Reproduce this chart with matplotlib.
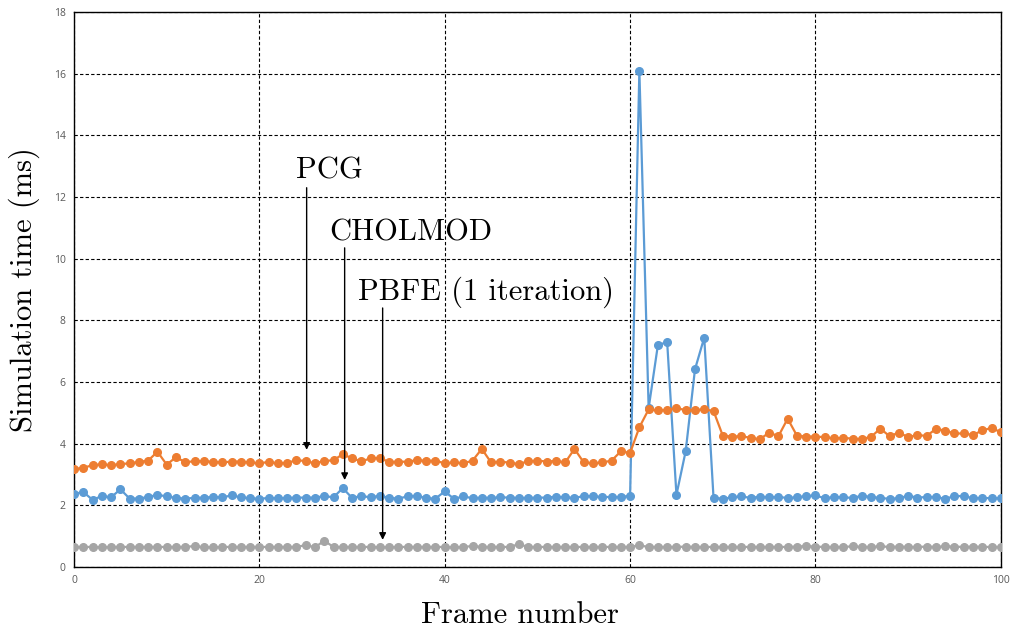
"""Simulation time per frame for three solvers."""

import matplotlib
matplotlib.use("Agg")
import matplotlib.pyplot as plt
import numpy as np

frames = np.arange(0, 101)

pcg_ms = [
    3.17, 3.22, 3.30, 3.33, 3.30, 3.34, 3.36, 3.41, 3.45, 3.74,
    3.32, 3.56, 3.40, 3.43, 3.43, 3.41, 3.39, 3.42, 3.42, 3.39,
    3.36, 3.41, 3.36, 3.38, 3.46, 3.44, 3.36, 3.44, 3.46, 3.66,
    3.52, 3.43, 3.52, 3.54, 3.40, 3.42, 3.41, 3.47, 3.44, 3.45,
    3.36, 3.39, 3.36, 3.45, 3.83, 3.39, 3.42, 3.38, 3.34, 3.43,
    3.45, 3.42, 3.44, 3.39, 3.83, 3.39, 3.36, 3.39, 3.45, 3.75,
    3.70, 4.53, 5.11, 5.08, 5.09, 5.15, 5.09, 5.09, 5.11, 5.06,
    4.26, 4.23, 4.24, 4.19, 4.14, 4.36, 4.24, 4.81, 4.26, 4.23,
    4.23, 4.21, 4.17, 4.19, 4.16, 4.15, 4.22, 4.49, 4.24, 4.36,
    4.21, 4.28, 4.25, 4.48, 4.42, 4.33, 4.33, 4.28, 4.43, 4.51,
    4.37,
]

cholmod_ms = [
    2.37, 2.43, 2.18, 2.30, 2.26, 2.52, 2.22, 2.22, 2.27, 2.34,
    2.29, 2.24, 2.22, 2.24, 2.25, 2.27, 2.26, 2.32, 2.26, 2.23,
    2.21, 2.24, 2.23, 2.24, 2.25, 2.25, 2.25, 2.30, 2.26, 2.56,
    2.24, 2.30, 2.26, 2.31, 2.24, 2.22, 2.29, 2.31, 2.23, 2.22,
    2.45, 2.21, 2.29, 2.23, 2.25, 2.24, 2.26, 2.25, 2.24, 2.24,
    2.25, 2.25, 2.28, 2.26, 2.24, 2.30, 2.29, 2.27, 2.27, 2.27,
    2.31, 16.1, 5.15, 7.20, 7.29, 2.34, 3.76, 6.41, 7.44, 2.25,
    2.21, 2.26, 2.29, 2.24, 2.28, 2.26, 2.27, 2.24, 2.26, 2.30,
    2.32, 2.23, 2.27, 2.26, 2.24, 2.31, 2.27, 2.24, 2.21, 2.23,
    2.31, 2.25, 2.27, 2.27, 2.21, 2.30, 2.30, 2.23, 2.24, 2.23,
    2.23,
]

pbfe_ms = [
    0.65, 0.65, 0.65, 0.64, 0.65, 0.65, 0.65, 0.65, 0.65, 0.65,
    0.65, 0.65, 0.65, 0.68, 0.64, 0.64, 0.65, 0.65, 0.65, 0.65,
    0.65, 0.65, 0.65, 0.65, 0.65, 0.71, 0.64, 0.85, 0.65, 0.65,
    0.65, 0.65, 0.65, 0.64, 0.64, 0.65, 0.65, 0.65, 0.65, 0.65,
    0.65, 0.64, 0.65, 0.68, 0.65, 0.65, 0.65, 0.65, 0.74, 0.65,
    0.65, 0.65, 0.65, 0.65, 0.65, 0.65, 0.65, 0.65, 0.65, 0.65,
    0.65, 0.70, 0.65, 0.65, 0.65, 0.65, 0.66, 0.65, 0.65, 0.65,
    0.65, 0.65, 0.65, 0.65, 0.65, 0.65, 0.65, 0.65, 0.66, 0.68,
    0.66, 0.65, 0.65, 0.65, 0.67, 0.65, 0.65, 0.67, 0.65, 0.66,
    0.65, 0.65, 0.66, 0.65, 0.67, 0.66, 0.65, 0.66, 0.65, 0.65,
    0.65,
]

# label text, text anchor (x, y), arrow tip (x, y)
annotations = [
    ("PCG", (24.0, 12.6), (25.1, 3.80)),
    ("CHOLMOD", (27.5, 10.6), (29.2, 2.82)),
    ("PBFE (1 iteration)", (30.6, 8.66), (33.3, 0.88)),
]
arrow_tails = [12.3, 10.35, 8.4]

fig = plt.figure(figsize=(10.14, 6.3), dpi=100)
ax = fig.add_axes([0.073, 0.1, 0.914, 0.881])

ax.plot(frames, cholmod_ms, color="#5B9BD5", lw=1.6, marker="o", ms=5.5, zorder=3)
ax.plot(frames, pcg_ms, color="#ED7D31", lw=1.6, marker="o", ms=5.5, zorder=4)
ax.plot(frames, pbfe_ms, color="#A5A5A5", lw=1.6, marker="o", ms=5.5, zorder=3)

ax.set_xlim(0, 100)
ax.set_ylim(0, 18)
ax.set_xticks(range(0, 101, 20))
ax.set_yticks(range(0, 19, 2))
ax.tick_params(length=0, labelsize=7.5, labelcolor="#595959", pad=6)
for lab in ax.get_xticklabels() + ax.get_yticklabels():
    lab.set_family("Open Sans")
ax.grid(True, color="black", linestyle=(0, (3, 2)), linewidth=0.8)
ax.set_axisbelow(True)
for sp in ax.spines.values():
    sp.set_linewidth(1.0)
    sp.set_color("black")

ax.set_xlabel("Frame number", family="cmr10", fontsize=22, labelpad=11)
ax.xaxis.label.set_x(0.481)
ax.set_ylabel("Simulation time (ms)", family="cmr10", fontsize=22, labelpad=10)

for (text, (tx, ty), (ax_, ay)), tail in zip(annotations, arrow_tails):
    ax.text(tx, ty, text, family="cmr10", fontsize=22, ha="left", va="baseline", zorder=6)
    ax.annotate("", xy=(ax_, ay), xytext=(ax_, tail),
                arrowprops=dict(arrowstyle="-|>", color="black", lw=1.0,
                                mutation_scale=10, shrinkA=0, shrinkB=0),
                zorder=6)

fig.savefig("out.png", dpi=100)
